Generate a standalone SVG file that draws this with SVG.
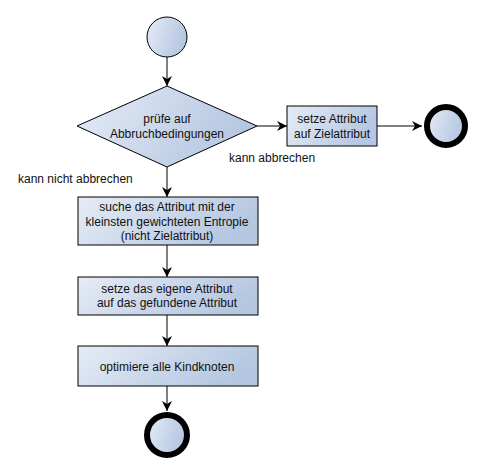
<svg xmlns="http://www.w3.org/2000/svg" width="501" height="471" viewBox="0 0 501 471">
<style>
.n{fill:url(#g);stroke:#000;stroke-width:1}
.e{fill:url(#g);stroke:#000;stroke-width:6}
.t{font-family:"Liberation Sans",Arial,sans-serif;font-size:12px;fill:#111;text-anchor:middle}
.l{font-family:"Liberation Sans",Arial,sans-serif;font-size:12px;fill:#111}
.c{stroke:#000;stroke-width:1;fill:none;marker-end:url(#a)}
</style>
<defs>
<linearGradient id="g" x1="0" y1="0" x2="1" y2="0.3">
<stop offset="0" stop-color="#e6ecf6"/>
<stop offset="1" stop-color="#b5c7e1"/>
</linearGradient>
<marker id="a" viewBox="0 0 10 10" refX="10" refY="5" markerWidth="10" markerHeight="10" markerUnits="userSpaceOnUse" orient="auto">
<path d="M0,0 L10,5 L0,10 L3,5 Z" fill="#000"/>
</marker>
</defs>
<rect width="501" height="471" fill="#fff"/>
<g id="connectors">
<line class="c" x1="167" y1="57" x2="167" y2="86"/>
<line class="c" x1="257" y1="126" x2="287" y2="126"/>
<line class="c" x1="377" y1="126" x2="422" y2="126"/>
<line class="c" x1="167" y1="167" x2="167" y2="197"/>
<line class="c" x1="167" y1="245" x2="167" y2="277"/>
<line class="c" x1="167" y1="315" x2="167" y2="346"/>
<line class="c" x1="167" y1="386" x2="167" y2="411"/>
<text class="l" x="229" y="162">kann abbrechen</text>
<text class="l" x="18" y="183">kann nicht abbrechen</text>
</g>
<g id="start"><circle class="n" cx="167" cy="37" r="20"/></g>
<g id="check">
<polygon class="n" points="167,86 257,126 167,167 77,126"/>
<text class="t" x="167" y="123">prüfe auf</text>
<text class="t" x="167" y="138">Abbruchbedingungen</text>
</g>
<g id="setTarget">
<rect class="n" x="287" y="106" width="90" height="40"/>
<text class="t" x="332" y="123">setze Attribut</text>
<text class="t" x="332" y="138">auf Zielattribut</text>
</g>
<g id="end1"><circle class="e" cx="446" cy="126" r="19"/></g>
<g id="search">
<rect class="n" x="78" y="197" width="180" height="48"/>
<text class="t" x="167" y="211">suche das Attribut mit der</text>
<text class="t" x="167" y="225.5">kleinsten gewichteten Entropie</text>
<text class="t" x="167" y="240">(nicht Zielattribut)</text>
</g>
<g id="setOwn">
<rect class="n" x="78" y="277" width="180" height="38"/>
<text class="t" x="167" y="293">setze das eigene Attribut</text>
<text class="t" x="167" y="307">auf das gefundene Attribut</text>
</g>
<g id="optimize">
<rect class="n" x="78" y="346" width="180" height="40"/>
<text class="t" x="167" y="371">optimiere alle Kindknoten</text>
</g>
<g id="end2"><circle class="e" cx="167" cy="435" r="20"/></g>
</svg>
